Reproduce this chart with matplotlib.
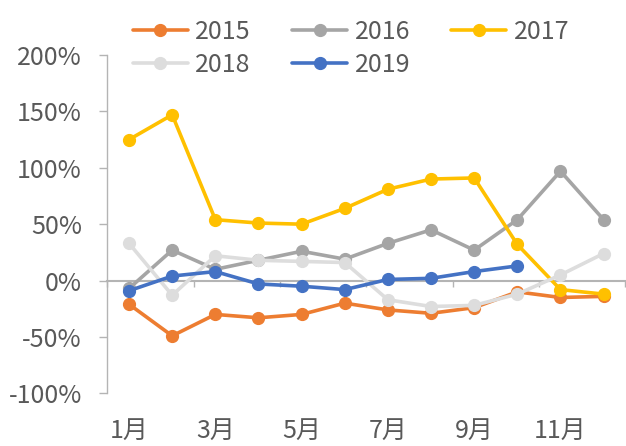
import matplotlib
matplotlib.use('Agg')
import matplotlib.pyplot as plt
from matplotlib.ticker import FuncFormatter

plt.rcParams['font.family'] = ['Noto Sans CJK SC', 'DejaVu Sans']

# month index 1..12
months = list(range(1, 13))
month_ticks = [1, 3, 5, 7, 9, 11]
month_labels = ['1月', '3月', '5月', '7月', '9月', '11月']

# year-on-year growth, percent
y2015 = [-21, -49, -30, -33, -30, -20, -26, -29, -24, -10, -15, -14]
y2016 = [-7, 27, 10, 18, 26, 19, 33, 45, 27, 54, 97, 54]
y2017 = [125, 147, 54, 51, 50, 64, 81, 90, 91, 32, -8, -12]
y2018 = [33, -13, 22, 18, 17, 16, -17, -23, -22, -12, 5, 24]
y2019 = [-9, 4, 8, -3, -5, -8, 1, 2, 8, 13]

series = [
    ('2015', y2015, '#ED7D31'),
    ('2016', y2016, '#A5A5A5'),
    ('2017', y2017, '#FFC000'),
    ('2018', y2018, '#DDDDDD'),
    ('2019', y2019, '#4472C4'),
]

text_color = '#595959'
axis_color = '#B4B4B4'
fs = 18

fig = plt.figure(figsize=(6.26, 4.46), dpi=100)
ax = fig.add_axes([0.1717, 0.118, 0.827, 0.7587])

handles = {}
for name, vals, col in series:
    ln, = ax.plot(months[:len(vals)], vals, color=col, lw=2.6, marker='o',
                  markersize=8.5, label=name, solid_capstyle='round')
    handles[name] = ln

ax.set_xlim(0.5, 12.5)
ax.set_ylim(-100, 200)
ax.set_yticks([-100, -50, 0, 50, 100, 150, 200])
ax.yaxis.set_major_formatter(FuncFormatter(lambda v, p: f'{int(v)}%'))
ax.tick_params(axis='y', length=6, width=1, color=axis_color, pad=12.5,
               labelsize=fs, labelcolor=text_color)

# zero line as category axis, tick marks between every 2 months
for s in ['top', 'right']:
    ax.spines[s].set_visible(False)
ax.spines['left'].set_color(axis_color)
ax.spines['left'].set_linewidth(1)
ax.spines['bottom'].set_position(('data', 0))
ax.spines['bottom'].set_color(axis_color)
ax.spines['bottom'].set_linewidth(1.5)
ax.spines['bottom'].set_zorder(0.5)
ax.set_xticks([0.5, 2.5, 4.5, 6.5, 8.5, 10.5, 12.5])
ax.tick_params(axis='x', length=4, width=1, color=axis_color, labelbottom=False)

sec = ax.secondary_xaxis('bottom')
sec.set_xticks(month_ticks)
sec.set_xticklabels(month_labels)
sec.tick_params(length=0, pad=18, labelsize=fs, labelcolor=text_color)
sec.spines['bottom'].set_visible(False)

# legend filled row-wise: 2015 2016 2017 / 2018 2019
order = ['2015', '2018', '2016', '2019', '2017']
leg = fig.legend([handles[k] for k in order], order, loc='upper left',
                 bbox_to_anchor=(0.192, 0.986), ncol=3,
                 frameon=False, fontsize=fs, handlelength=2.2,
                 handletextpad=0.3, columnspacing=1.65, labelspacing=0.3,
                 borderpad=0)
for t in leg.get_texts():
    t.set_color(text_color)

fig.savefig('out.png', dpi=100)
